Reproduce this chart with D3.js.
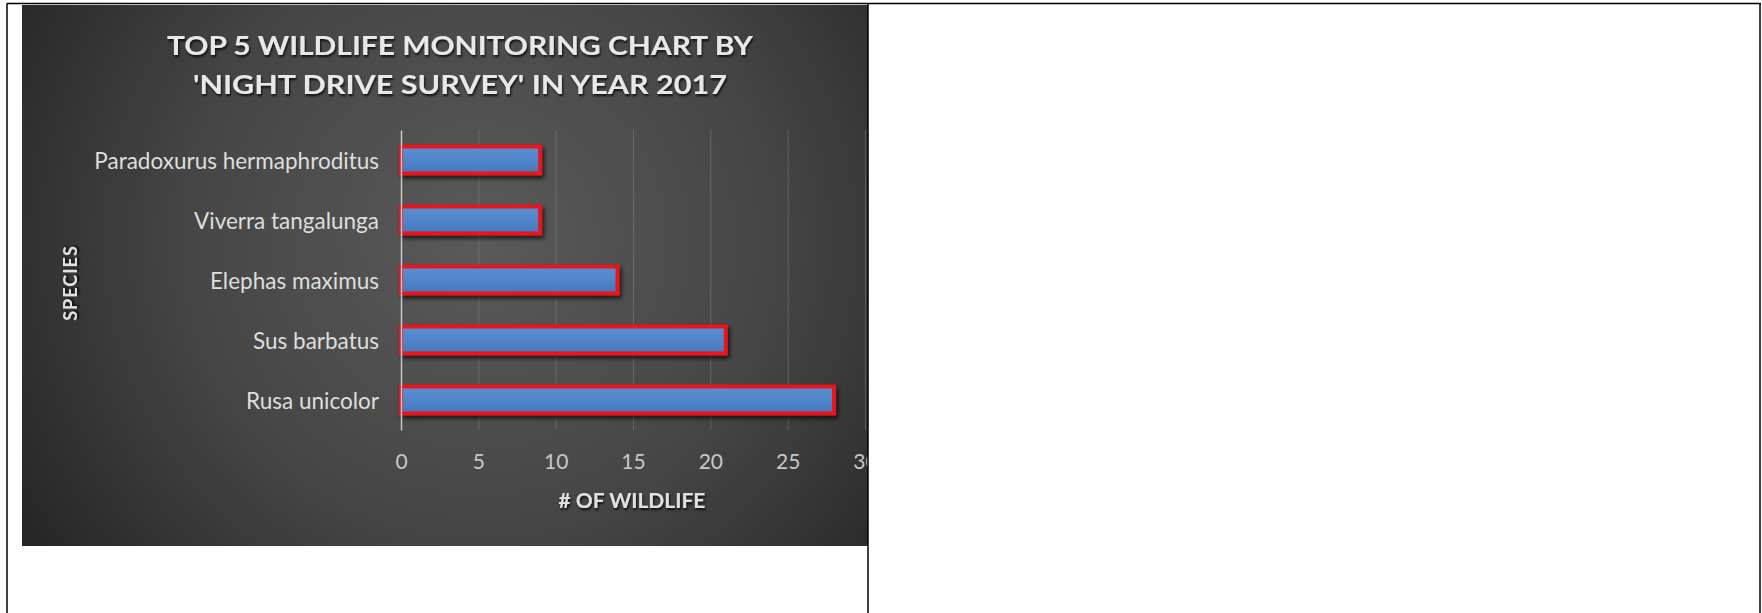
<!DOCTYPE html>
<html>
<head>
<meta charset="utf-8">
<script src="https://cdn.jsdelivr.net/npm/d3@7"></script>
<style>
  body { margin: 0; background: #fff; }
  svg { display: block; }
</style>
</head>
<body>
<svg id="page" width="1762" height="613"></svg>
<script>
// data
const species = ["Paradoxurus hermaphroditus", "Viverra tangalunga", "Elephas maximus", "Sus barbatus", "Rusa unicolor"];
const counts = [9, 9, 14, 21, 28];
const xTicks = [0, 5, 10, 15, 20, 25, 30];
const titleLines = ["TOP 5 WILDLIFE MONITORING CHART BY", "'NIGHT DRIVE SURVEY' IN YEAR 2017"];

const rows = species.map((s, i) => ({ name: s, value: counts[i] }));

const svg = d3.select("#page");
const defs = svg.append("defs");

// background of the pasted chart picture
const bg = defs.append("radialGradient")
    .attr("id", "bgGrad")
    .attr("gradientUnits", "userSpaceOnUse")
    .attr("cx", 480).attr("cy", 240).attr("r", 540);
bg.append("stop").attr("offset", "0%").attr("stop-color", "#5a5a5a");
bg.append("stop").attr("offset", "55%").attr("stop-color", "#454545");
bg.append("stop").attr("offset", "100%").attr("stop-color", "#262626");

const barGrad = defs.append("linearGradient")
    .attr("id", "barGrad")
    .attr("x1", 0).attr("y1", 0).attr("x2", 0).attr("y2", 1);
barGrad.append("stop").attr("offset", "0%").attr("stop-color", "#5b8fd2");
barGrad.append("stop").attr("offset", "50%").attr("stop-color", "#5185cb");
barGrad.append("stop").attr("offset", "100%").attr("stop-color", "#4676ba");

const shadow = defs.append("filter").attr("id", "shadow")
    .attr("x", "-10%").attr("y", "-30%").attr("width", "130%").attr("height", "180%");
shadow.append("feDropShadow")
    .attr("dx", 2).attr("dy", 3).attr("stdDeviation", 2)
    .attr("flood-color", "#000").attr("flood-opacity", 0.7);

const textShadow = defs.append("filter").attr("id", "textShadow");
textShadow.append("feDropShadow")
    .attr("dx", 1).attr("dy", 2).attr("stdDeviation", 1.2)
    .attr("flood-color", "#000").attr("flood-opacity", 0.8);

defs.append("clipPath").attr("id", "cell")
    .append("rect").attr("x", 22).attr("y", 5).attr("width", 846).attr("height", 541);

const chart = svg.append("g").attr("clip-path", "url(#cell)");

chart.append("rect")
    .attr("x", 22).attr("y", 5)
    .attr("width", 846).attr("height", 541)
    .attr("fill", "url(#bgGrad)");

const x = d3.scaleLinear().domain([0, 30]).range([401, 865]);
const y = d3.scaleBand().domain(species).range([130, 430])
    .paddingInner(0.55).paddingOuter(0.275);

// vertical gridlines
chart.append("g")
    .attr("transform", "translate(0,430)")
    .call(d3.axisBottom(x).tickValues(xTicks.slice(1)).tickSize(-300).tickFormat(""))
    .call(g => g.select(".domain").remove())
    .call(g => g.selectAll(".tick line")
        .attr("stroke", "#8a8a8a").attr("stroke-opacity", 0.45).attr("stroke-width", 1));

// x tick labels
chart.append("g")
    .attr("transform", "translate(0,454)")
    .call(d3.axisBottom(x).tickValues(xTicks).tickSize(0).tickPadding(0))
    .call(g => g.select(".domain").remove())
    .call(g => g.selectAll(".tick text")
        .attr("fill", "#c8c8c8")
        .attr("font-family", "Lato")
        .attr("font-size", 21)
        .attr("dy", "0.71em"));

// bars
chart.append("g")
    .selectAll("rect")
    .data(rows)
    .join("rect")
    .attr("x", x(0))
    .attr("y", d => y(d.name))
    .attr("width", d => x(d.value) - x(0))
    .attr("height", y.bandwidth())
    .attr("fill", "url(#barGrad)")
    .attr("stroke", "#e8141c")
    .attr("stroke-width", 4)
    .attr("filter", "url(#shadow)");

// category axis
chart.append("g")
    .attr("transform", `translate(${x(0)},0)`)
    .call(d3.axisLeft(y).tickSize(0).tickPadding(22))
    .call(g => g.select(".domain").attr("stroke", "#c8c8c8").attr("stroke-width", 1.5))
    .call(g => g.selectAll(".tick text")
        .attr("fill", "#dedede")
        .attr("font-family", "Lato")
        .attr("font-size", 22.5)
        .attr("dy", "0.38em"));

// title
chart.append("g")
    .attr("fill", "#e8e8e8")
    .attr("font-family", "Lato")
    .attr("font-weight", "bold")
    .attr("font-size", 26)
    .attr("text-anchor", "middle")
    .attr("filter", "url(#textShadow)")
    .selectAll("text")
    .data(titleLines)
    .join("text")
    .attr("x", 460)
    .attr("y", (d, i) => 55 + i * 39)
    .attr("textLength", (d, i) => i === 0 ? 586 : 534)
    .attr("lengthAdjust", "spacingAndGlyphs")
    .text(d => d);

// axis titles
chart.append("text")
    .attr("x", 632).attr("y", 508)
    .attr("text-anchor", "middle")
    .attr("fill", "#e0e0e0")
    .attr("font-family", "Lato").attr("font-weight", "bold").attr("font-size", 21)
    .attr("filter", "url(#textShadow)")
    .text("# OF WILDLIFE");

chart.append("text")
    .attr("transform", "translate(77,283) rotate(-90)")
    .attr("text-anchor", "middle")
    .attr("fill", "#e0e0e0")
    .attr("font-family", "Lato").attr("font-weight", "bold").attr("font-size", 18)
    .attr("letter-spacing", 1)
    .attr("filter", "url(#textShadow)")
    .text("SPECIES");

// table borders of the page
svg.append("g")
    .attr("stroke", "#000")
    .attr("stroke-width", 1.5)
    .selectAll("line")
    .data([
        [7, 3.5, 1761, 3.5],
        [7, 3.5, 7, 613],
        [868, 3.5, 868, 613],
        [1760, 3.5, 1760, 613]
    ])
    .join("line")
    .attr("x1", d => d[0]).attr("y1", d => d[1])
    .attr("x2", d => d[2]).attr("y2", d => d[3]);
</script>
</body>
</html>
